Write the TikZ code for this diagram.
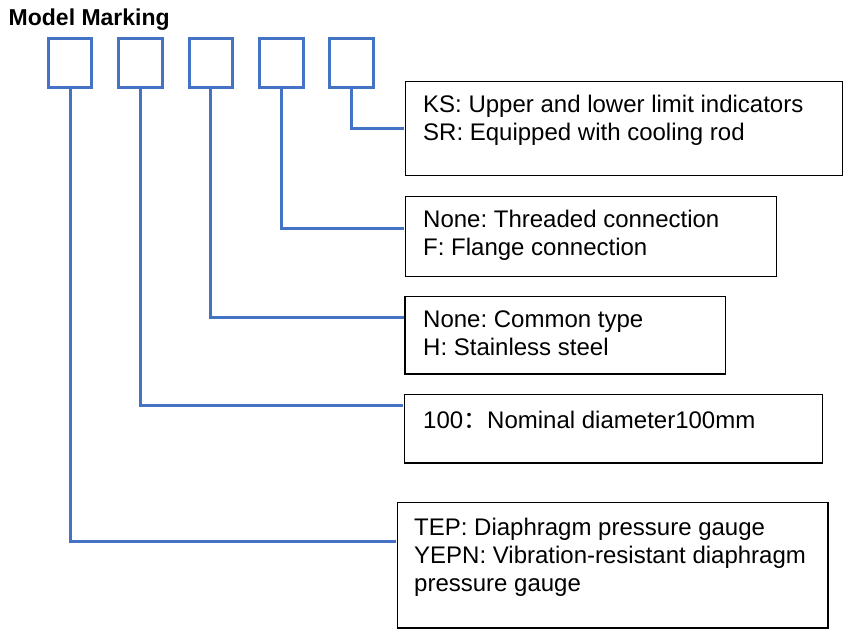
\documentclass[tikz,border=0pt]{standalone}
\usepackage{fontspec}
\setmainfont{Liberation Sans}
\newfontfamily\cjkfont{Noto Sans CJK SC}
\usetikzlibrary{positioning, calc}
\definecolor{markblue}{HTML}{4472C4}
\frenchspacing

\begin{document}
\begin{tikzpicture}[
  x=1pt, y=-1pt,
  heading/.style={
    font=\fontsize{23}{27}\selectfont\bfseries,
    inner sep=0pt, anchor=base west
  },
  slot/.style={
    draw=markblue, line width=3pt,
    minimum width=43.6pt, minimum height=49.6pt, inner sep=0pt
  },
  optbox/.style={
    draw=black, line width=1.3pt,
    anchor=north west, inner sep=0pt
  },
  opttext/.style={
    font=\fontsize{24}{28}\selectfont,
    align=left, inner sep=0pt, anchor=north west
  },
  link/.style={draw=markblue, line width=3pt, shorten >=0.65pt}
]
\useasboundingbox (0,0) rectangle (868,642);

%% Titel + Kennzeichenfelder
\node[heading] (title) at (8.5,26) {Model Marking};

\foreach \i in {1,...,5}
  \node[slot] (slot\i) at ({70+70.4*(\i-1)},63) {};

%% Erlaeuterungen
\node[optbox, minimum width=437.5pt, minimum height=94pt] (opt1) at (404.5,80.7) {};
\node[opttext] (txt1) at ($(opt1.north west)+(18.5,13.8)$)
  {KS: Upper and lower limit indicators\\
   SR: Equipped with cooling rod};

\node[optbox, minimum width=371.5pt, minimum height=80.3pt] (opt2) at (404.5,195.7) {};
\node[opttext] (txt2) at ($(opt2.north west)+(18.5,13.8)$)
  {None: Threaded connection\\
   F: Flange connection};

\node[optbox, minimum width=320.7pt, minimum height=77.6pt] (opt3) at (404.3,295.7) {};
\node[opttext] (txt3) at ($(opt3.north west)+(18.7,14.4)$)
  {None: Common type\\
   H: Stainless steel};

\node[optbox, minimum width=417.7pt, minimum height=68.3pt] (opt4) at (404,394) {};
\node[opttext] (txt4) at ($(opt4.north west)+(19,17.1)$)
  {100{\cjkfont ：}Nominal diameter100mm};

\node[optbox, minimum width=430.6pt, minimum height=125.6pt] (opt5) at (396.7,501.7) {};
\node[opttext] (txt5) at ($(opt5.north west)+(17.3,16.1)$)
  {TEP: Diaphragm pressure gauge\\
   YEPN: Vibration-resistant diaphragm\\
   pressure gauge};

%% Verbindungen
\draw[link] (slot5.south) |- (opt1.west);
\draw[link] (slot4.south) |- ([yshift=8pt]opt2.west);
\draw[link] (slot3.south) |- ([yshift=17.2pt]opt3.west);
\draw[link] (slot2.south) |- ([yshift=23.2pt]opt4.west);
\draw[link] (slot1.south) |- ([yshift=23.5pt]opt5.west);

\end{tikzpicture}
\end{document}
